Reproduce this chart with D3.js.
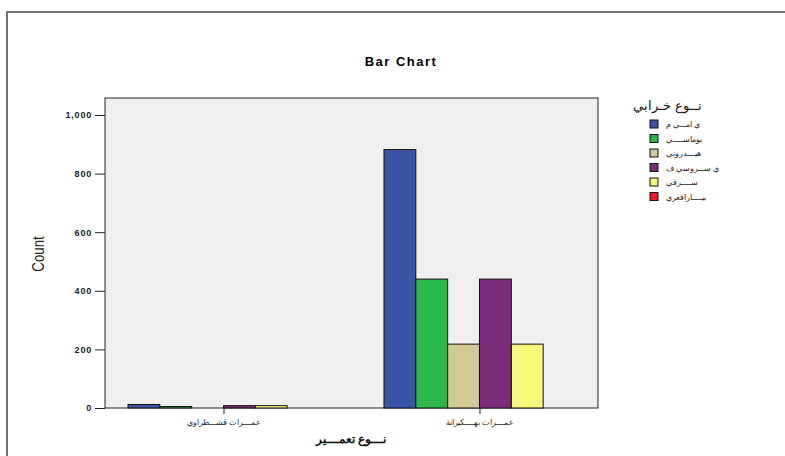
<!DOCTYPE html>
<html><head><meta charset="utf-8">
<script src="https://cdn.jsdelivr.net/npm/d3@7"></script>
<style>body{margin:0;background:#fff}svg{display:block}</style>
</head><body>
<script>
const categories = ["عمــــرات قشـــطراوي", "عمــــرات بهـــــكيرانة"];
const series = ["ي امـــي م", "بوماســـــي", "هيــــدروني", "ي ســـروسي ف", "ســـــرقي", "بيـــــارافعري"];
const colors = ["#3A54A6", "#2DB84C", "#D3CB96", "#7C2A7C", "#F8F87C", "#EE1D25"];
const values = [
  [12, 5, 0, 8, 8, 0],
  [882, 440, 218, 440, 218, 0]
];
const yTicks = [0, 200, 400, 600, 800, 1000];
const title = "Bar Chart";
const yTitle = "Count";
const xTitle = "نـــوع تعمـــير";
const legendTitle = "نــوع خـرابي";

const W = 785, H = 456;
const svg = d3.select("body").append("svg").attr("width", W).attr("height", H);
svg.append("rect").attr("x", 7).attr("y", 12).attr("width", 800).attr("height", 460)
  .attr("fill", "#fff").attr("stroke", "#444").attr("stroke-width", 1.5);

const L = 105, R = 598, T = 98, B = 408;
svg.append("rect").attr("x", L).attr("y", T).attr("width", R - L).attr("height", B - T)
  .attr("fill", "#EFEFEF").attr("stroke", "#222").attr("stroke-width", 1);

const x0 = d3.scalePoint().domain(categories).range([L, R]).padding(0.463);
const x1 = d3.scaleBand().domain(series).range([-95.5, 95.5]);
const y = d3.scaleLinear().domain([0, 1000 * (B - T) / 293]).range([B, T]);

const g = svg.append("g");
categories.forEach((c, i) => {
  series.forEach((s, j) => {
    const v = values[i][j];
    if (v <= 0) return;
    g.append("rect").attr("x", x0(c) + x1(s)).attr("y", y(v))
      .attr("width", x1.bandwidth()).attr("height", y(0) - y(v))
      .attr("fill", colors[j]).attr("stroke", "#111").attr("stroke-width", 1);
  });
});

const yAxis = d3.axisLeft(y).tickValues(yTicks).tickSize(10).tickPadding(3).tickFormat(d3.format(","));
const ya = svg.append("g").attr("transform", `translate(${L},0)`).call(yAxis);
ya.select(".domain").remove();
ya.selectAll("line").attr("stroke", "#222");
ya.selectAll("text").attr("font-family", "Arial, Liberation Sans, sans-serif").attr("font-size", 9)
  .attr("font-weight", "bold").attr("letter-spacing", 0.8).attr("fill", "#222");

const xAxis = d3.axisBottom(x0).tickSize(6).tickPadding(5);
const xa = svg.append("g").attr("transform", `translate(0,${B})`).call(xAxis);
xa.select(".domain").remove();
xa.selectAll("line").attr("stroke", "#222");
xa.selectAll("text").attr("font-family", "Arial, Liberation Sans, sans-serif").attr("font-size", 8).attr("fill", "#222");

svg.append("text").attr("x", 401).attr("y", 66).attr("text-anchor", "middle")
  .attr("font-family", "Arial, Liberation Sans, sans-serif").attr("font-size", 13).attr("font-weight", "bold")
  .attr("letter-spacing", 1.5).text(title);

svg.append("text").attr("transform", "translate(44,254) rotate(-90) scale(0.78,1)").attr("text-anchor", "middle")
  .attr("font-family", "Liberation Sans Narrow, Arial Narrow, Liberation Sans, sans-serif").attr("font-size", 17)
  .attr("fill", "#222").text(yTitle);

svg.append("text").attr("x", 351).attr("y", 443).attr("text-anchor", "middle")
  .attr("font-family", "Arial, Liberation Sans, sans-serif").attr("font-size", 12).attr("font-weight", "bold")
  .attr("fill", "#111").text(xTitle);

const lg = svg.append("g");
lg.append("text").attr("x", 702).attr("y", 110).attr("text-anchor", "end")
  .attr("font-family", "Arial, Liberation Sans, sans-serif").attr("font-size", 13).attr("fill", "#111").text(legendTitle);
series.forEach((s, j) => {
  const yy = 120 + j * 14.5;
  lg.append("rect").attr("x", 650).attr("y", yy).attr("width", 8).attr("height", 8)
    .attr("fill", colors[j]).attr("stroke", "#111").attr("stroke-width", 1);
  lg.append("text").attr("x", 666).attr("y", yy + 7).attr("text-anchor", "start")
    .attr("font-family", "Arial, Liberation Sans, sans-serif").attr("font-size", 8).attr("fill", "#222").text(s);
});
</script>
</body></html>
